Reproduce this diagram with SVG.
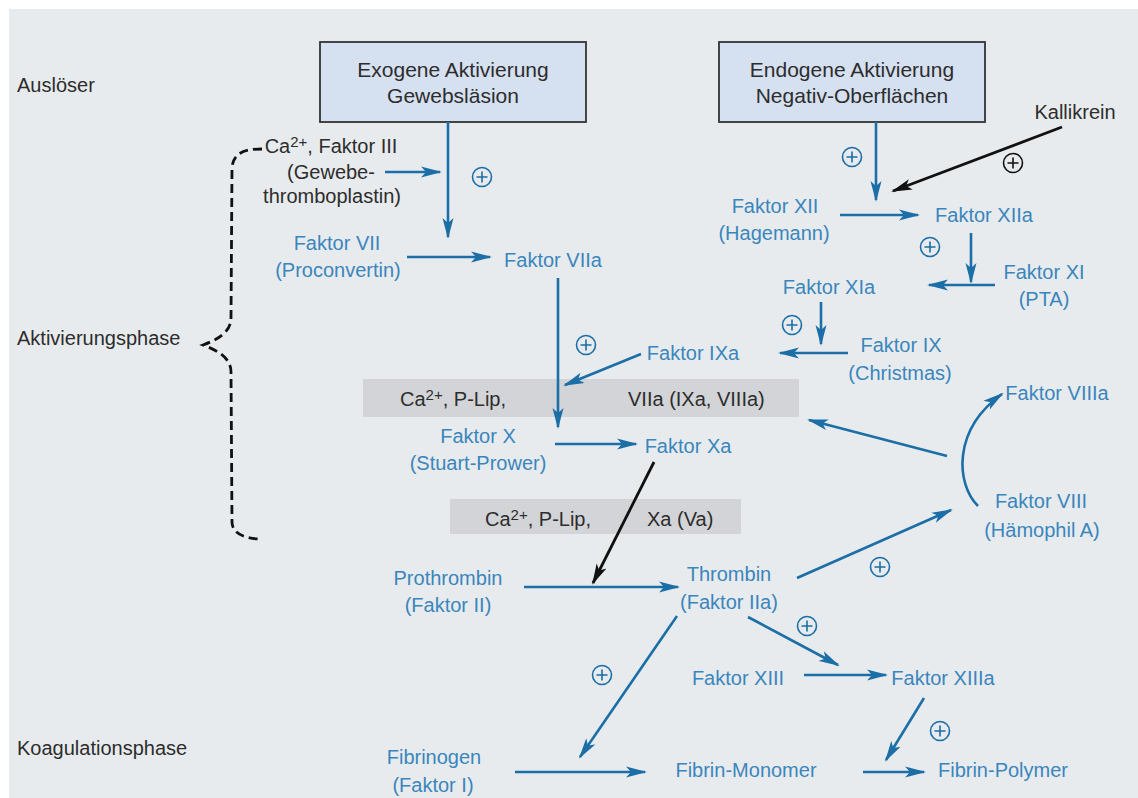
<svg xmlns="http://www.w3.org/2000/svg" width="1138" height="798" viewBox="0 0 1138 798">
<defs>
<style>
text{font-family:"Liberation Sans",Arial,sans-serif;font-size:20px}
.d{fill:#2d2d2d}
.b{fill:#3a86bc}
.m{text-anchor:middle}
.sup{font-size:15px}
.box{fill:#d5e0f1;stroke:#333;stroke-width:1.8}
.band{fill:#d2d4d7}
.lb{stroke:#1b6ea6;stroke-width:2.6;fill:none}
.lk{stroke:#111;stroke-width:2.8;fill:none}
.ab{marker-end:url(#ab)}
.ak{marker-end:url(#ak)}
.pc{fill:none;stroke-width:1.6}
</style>
<marker id="ab" markerUnits="userSpaceOnUse" markerWidth="22" markerHeight="12" refX="19" refY="6" orient="auto" viewBox="0 0 22 12"><path d="M0,0.5 L21,6 L0,11.5 L5,6 Z" fill="#1b6ea6"/></marker>
<marker id="ak" markerUnits="userSpaceOnUse" markerWidth="22" markerHeight="12" refX="19" refY="6" orient="auto" viewBox="0 0 22 12"><path d="M0,0.5 L21,6 L0,11.5 L5,6 Z" fill="#111"/></marker>
<g id="pb" class="pc" stroke="#1b6ea6"><circle r="9.5"/><path d="M-5.5,0H5.5M0,-5.5V5.5"/></g>
<g id="pk" class="pc" stroke="#111"><circle r="9.5"/><path d="M-5.5,0H5.5M0,-5.5V5.5"/></g>
</defs>
<rect x="0" y="0" width="1138" height="798" fill="#ffffff"/>
<rect x="9" y="9" width="1129" height="789" fill="#e8ebee"/>

<g id="phases">
<text class="d" x="17" y="92">Auslöser</text>
<text class="d" x="17" y="345">Aktivierungsphase</text>
<text class="d" x="17" y="755">Koagulationsphase</text>
</g>

<g id="bands">
<rect id="band1" class="band" x="363" y="379" width="436" height="38"/>
<rect id="band2" class="band" x="450" y="499" width="291" height="35"/>
</g>

<g id="node-exogen">
<rect class="box" x="320" y="42" width="266" height="80"/>
<text class="d m" x="453" y="77" style="font-size:21px">Exogene Aktivierung</text>
<text class="d m" x="453" y="103" style="font-size:21px">Gewebsläsion</text>
</g>
<g id="node-endogen">
<rect class="box" x="719" y="42" width="266" height="80"/>
<text class="d m" x="852" y="77" style="font-size:21px">Endogene Aktivierung</text>
<text class="d m" x="852" y="103" style="font-size:21px">Negativ-Oberflächen</text>
</g>

<g id="connectors">
<path class="lk" stroke-dasharray="9,5" d="M262,149 C246,149 233,152 232,168 L231,318 C231,333 216,340 203,345 C216,350 231,357 231,372 L232,522 C232,534 246,539 262,539"/>
<path class="lb ab" d="M385,172 H440"/>
<path class="lb ab" d="M448,122 V237"/>
<path class="lb ab" d="M407,257 H490"/>
<path class="lb ab" d="M558,278 V427"/>
<path class="lb ab" d="M641,354 L565,385"/>
<path class="lb ab" d="M555,444 H636"/>
<path class="lk ak" d="M654,462 L593,583"/>
<path class="lb ab" d="M524,587 H678"/>
<path class="lb ab" d="M797,578 L951,510"/>
<path class="lb ab" d="M978,506 C956,484 952,430 1002,394"/>
<path class="lb ab" d="M947,456 L809,420"/>
<path class="lb ab" d="M876,122 V200"/>
<path class="lk ak" d="M1062,127 L893,191"/>
<path class="lb ab" d="M840,215 H918"/>
<path class="lb ab" d="M971,233 V282"/>
<path class="lb ab" d="M995,285 H929"/>
<path class="lb ab" d="M821,302 V344"/>
<path class="lb ab" d="M848,353 H780"/>
<path class="lb ab" d="M677,616 L580,757"/>
<path class="lb ab" d="M748,617 L838,665"/>
<path class="lb ab" d="M804,675 H886"/>
<path class="lb ab" d="M924,698 L886,760"/>
<path class="lb ab" d="M515,772 H645"/>
<path class="lb ab" d="M863,772 H924"/>
</g>

<g id="plus-signs">
<use href="#pb" x="482" y="177"/>
<use href="#pb" x="586" y="345"/>
<use href="#pb" x="852" y="157"/>
<use href="#pk" x="1013" y="163"/>
<use href="#pb" x="930" y="247"/>
<use href="#pb" x="792" y="325"/>
<use href="#pb" x="880" y="567"/>
<use href="#pb" x="807" y="626"/>
<use href="#pb" x="602" y="675"/>
<use href="#pb" x="940" y="731"/>
</g>

<g id="node-ca-faktor3">
<text class="d m" x="331" y="153">Ca<tspan class="sup" dy="-6">2+</tspan><tspan dy="6">, Faktor III</tspan></text>
<text class="d m" x="331" y="179">(Gewebe-</text>
<text class="d m" x="332" y="203">thromboplastin)</text>
</g>
<g id="node-f7">
<text class="b m" x="337" y="250">Faktor VII</text>
<text class="b m" x="338" y="277">(Proconvertin)</text>
</g>
<g id="node-f7a"><text class="b m" x="553" y="267">Faktor VIIa</text></g>
<g id="node-kallikrein"><text class="d m" x="1075" y="119">Kallikrein</text></g>
<g id="node-f12">
<text class="b m" x="775" y="213">Faktor XII</text>
<text class="b m" x="774" y="240">(Hagemann)</text>
</g>
<g id="node-f12a"><text class="b m" x="984" y="222">Faktor XIIa</text></g>
<g id="node-f11">
<text class="b m" x="1044" y="279">Faktor XI</text>
<text class="b m" x="1044" y="306">(PTA)</text>
</g>
<g id="node-f11a"><text class="b m" x="829" y="294">Faktor XIa</text></g>
<g id="node-f9a"><text class="b m" x="693" y="360">Faktor IXa</text></g>
<g id="node-f9">
<text class="b m" x="901" y="352">Faktor IX</text>
<text class="b m" x="900" y="380">(Christmas)</text>
</g>
<g id="node-band1-text">
<text class="d" x="400" y="406">Ca<tspan class="sup" dy="-6">2+</tspan><tspan dy="6">, P-Lip,</tspan></text>
<text class="d" x="628" y="406">VIIa (IXa, VIIIa)</text>
</g>
<g id="node-f10">
<text class="b m" x="478" y="443">Faktor X</text>
<text class="b m" x="478" y="470">(Stuart-Prower)</text>
</g>
<g id="node-f10a"><text class="b m" x="688" y="453">Faktor Xa</text></g>
<g id="node-f8a"><text class="b m" x="1057" y="400">Faktor VIIIa</text></g>
<g id="node-f8">
<text class="b m" x="1041" y="508">Faktor VIII</text>
<text class="b m" x="1042" y="537">(Hämophil A)</text>
</g>
<g id="node-band2-text">
<text class="d" x="485" y="526">Ca<tspan class="sup" dy="-6">2+</tspan><tspan dy="6">, P-Lip,</tspan></text>
<text class="d" x="647" y="526">Xa (Va)</text>
</g>
<g id="node-prothrombin">
<text class="b m" x="448" y="585">Prothrombin</text>
<text class="b m" x="448" y="612">(Faktor II)</text>
</g>
<g id="node-thrombin">
<text class="b m" x="729" y="581">Thrombin</text>
<text class="b m" x="729" y="609">(Faktor IIa)</text>
</g>
<g id="node-f13"><text class="b m" x="738" y="685">Faktor XIII</text></g>
<g id="node-f13a"><text class="b m" x="943" y="685">Faktor XIIIa</text></g>
<g id="node-fibrinogen">
<text class="b m" x="434" y="764">Fibrinogen</text>
<text class="b m" x="433" y="792">(Faktor I)</text>
</g>
<g id="node-monomer"><text class="b m" x="746" y="777">Fibrin-Monomer</text></g>
<g id="node-polymer"><text class="b m" x="1003" y="777">Fibrin-Polymer</text></g>
</svg>
